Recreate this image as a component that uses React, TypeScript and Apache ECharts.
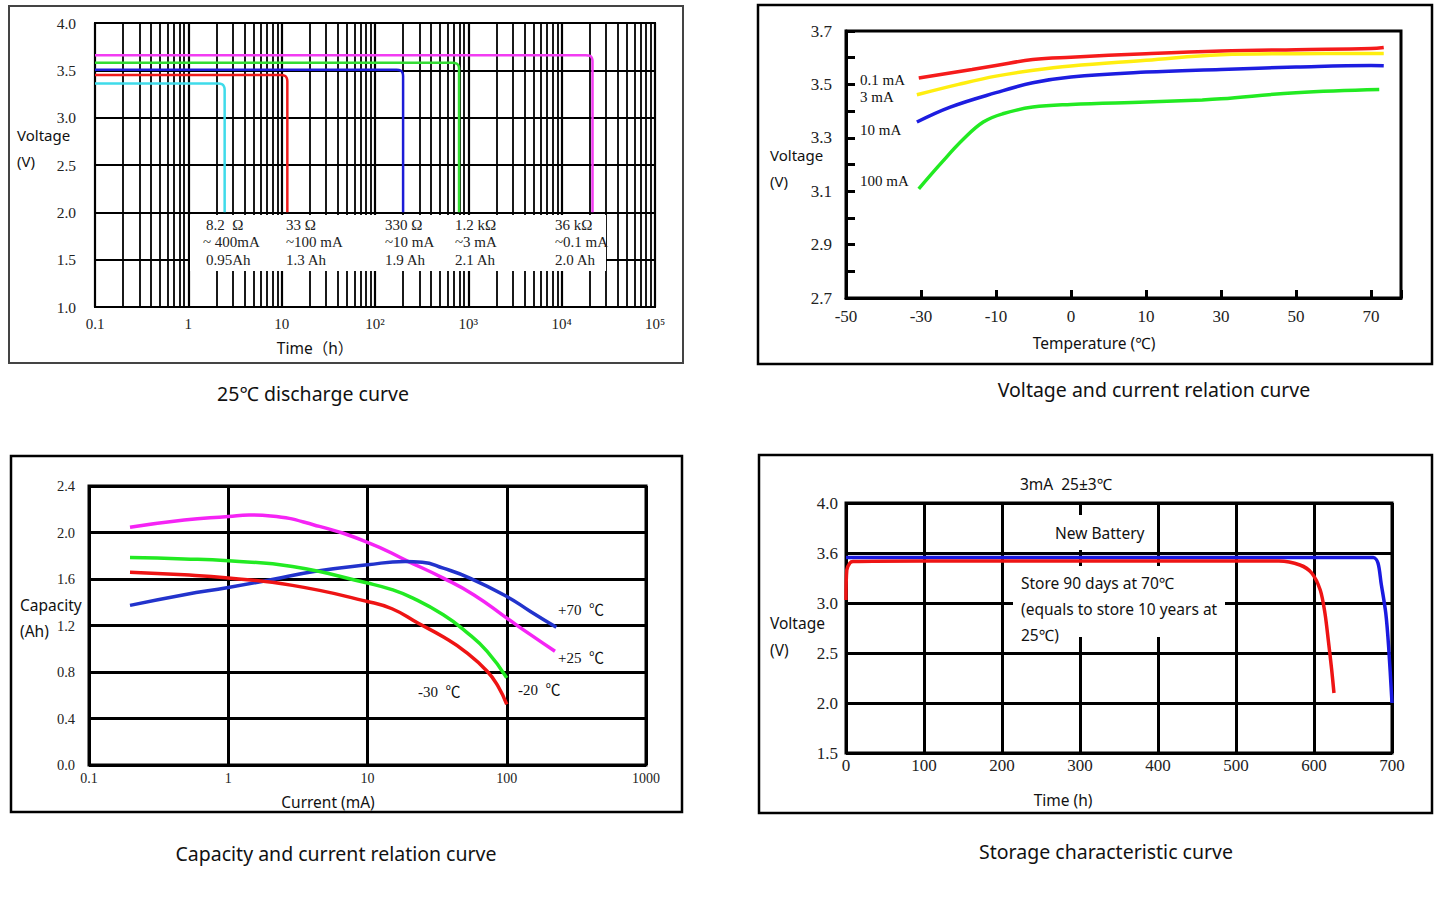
import React, { useEffect, useRef } from 'react';
import * as echarts from 'echarts';

// ---------------- Panel 1: 25℃ discharge curve ----------------
const dischargeXTicks = ['0.1', '1', '10', '10²', '10³', '10⁴', '10⁵'];
const dischargeLoads = ['8.2  Ω', '33 Ω', '330 Ω', '1.2 kΩ', '36 kΩ'];
const dischargeCurrents = ['~ 400mA', '~100 mA', '~10 mA', '~3 mA', '~0.1 mA'];
const dischargeCapacities = ['0.95Ah', '1.3 Ah', '1.9 Ah', '2.1 Ah', '2.0 Ah'];
const dischargeColors = ['#3fdbea', '#f01c1c', '#1c1cd8', '#33dd33', '#f23cf2'];
// [time (h), voltage (V)]
const discharge8R2 = [[0.1, 3.36], [2.08, 3.36], [2.31, 3.352], [2.41, 3.33], [2.45, 3.295], [2.45, 2.0]];
const discharge33R = [[0.1, 3.45], [9.75, 3.45], [10.85, 3.442], [11.33, 3.42], [11.5, 3.385], [11.5, 2.0]];
const discharge330R = [[0.1, 3.505], [170, 3.505], [189, 3.497], [197, 3.475], [200, 3.44], [200, 2.0]];
const discharge1K2 = [[0.1, 3.58], [674, 3.58], [750, 3.572], [783, 3.55], [795, 3.515], [795, 2.0]];
const discharge36K = [[0.1, 3.66], [18100, 3.66], [20200, 3.652], [21080, 3.63], [21400, 3.595], [21400, 2.0]];
const dischargeCurves = [discharge8R2, discharge33R, discharge330R, discharge1K2, discharge36K];

// ---------------- Panel 2: Voltage and current relation curve ----------------
const tempLabels = ['-50', '-30', '-10', '0', '10', '30', '50', '70'];
// [slot on temperature axis, voltage (V)]
const vc01mA = [[0.97, 3.524], [1.68, 3.556], [2.0, 3.571], [2.49, 3.593], [3.0, 3.602], [4.0, 3.615], [5.0, 3.625], [6.0, 3.63], [7.0, 3.634], [7.17, 3.638]];
const vc3mA = [[0.945, 3.461], [1.5, 3.5], [2.0, 3.531], [2.5, 3.553], [3.0, 3.569], [4.0, 3.59], [5.0, 3.611], [6.0, 3.615], [7.17, 3.616]];
const vc10mA = [[0.945, 3.359], [1.39, 3.415], [2.0, 3.469], [2.49, 3.506], [3.0, 3.528], [4.0, 3.546], [5.0, 3.556], [6.0, 3.565], [7.0, 3.571], [7.17, 3.57]];
const vc100mA = [[0.97, 3.109], [1.28, 3.209], [1.57, 3.296], [1.83, 3.359], [2.09, 3.39], [2.49, 3.415], [3.0, 3.425], [4.0, 3.434], [4.75, 3.442], [5.0, 3.446], [6.0, 3.469], [7.11, 3.481]];
const vcNames = ['0.1 mA', '3 mA', '10 mA', '100 mA'];
const vcColors = ['#f51b1b', '#ffee10', '#1d1de0', '#22ea22'];
const vcCurves = [vc01mA, vc3mA, vc10mA, vc100mA];

// ---------------- Panel 3: Capacity and current relation curve ----------------
const currentTicks = ['0.1', '1', '10', '100', '1000'];
// [current (mA), capacity (Ah)]
const cap25 = [[0.197, 2.045], [0.483, 2.108], [1.0, 2.137], [1.41, 2.151], [2.02, 2.142], [4.13, 2.065], [10, 1.916], [19.7, 1.75], [35, 1.608], [57.8, 1.465], [100, 1.264], [148, 1.121], [222, 0.978]];
const cap70 = [[0.197, 1.373], [0.483, 1.465], [1.0, 1.527], [2.02, 1.593], [4.13, 1.665], [10, 1.722], [18.6, 1.75], [24.7, 1.745], [35, 1.693], [54.3, 1.608], [100, 1.45], [148, 1.321], [227, 1.184]];
const capM20 = [[0.197, 1.785], [0.483, 1.773], [1.0, 1.756], [2.89, 1.708], [10, 1.565], [15.0, 1.508], [21.2, 1.436], [35, 1.293], [50.6, 1.15], [72.3, 0.978], [100, 0.749]];
const capM30 = [[0.197, 1.659], [0.483, 1.636], [1.0, 1.608], [2.89, 1.545], [10, 1.407], [15.0, 1.344], [23.0, 1.221], [35.4, 1.098], [50.6, 0.973], [72.3, 0.807], [86.5, 0.678], [100, 0.521]];
const capNames = ['+25  ℃', '+70  ℃', '-20  ℃', '-30  ℃'];
const capColors = ['#f524f5', '#2233cc', '#22ea22', '#ee1414'];
const capCurves = [cap25, cap70, capM20, capM30];

// ---------------- Panel 4: Storage characteristic curve ----------------
const storageYLabels = ['1.5', '2.0', '2.5', '3.0', '3.6', '4.0'];
// [time (h), voltage (V)]
const storageNew = [[0, 3.454], [300, 3.455], [600, 3.455], [676, 3.454], [682, 3.4], [686, 3.2], [692, 2.9], [695.7, 2.56], [700, 2.0]];
const storage90d = [[0, 3.03], [1, 3.33], [5, 3.4], [9, 3.415], [100, 3.42], [555, 3.42], [582, 3.38], [597, 3.3], [608, 3.13], [614, 2.9], [618.3, 2.63], [622.7, 2.33], [625.6, 2.1]];
const storageNames = ['New Battery', 'Store 90 days at 70℃'];
const storageColors = ['#1a1ae0', '#ee1414'];

const SANS = "'Noto Sans', 'Noto Sans CJK SC', sans-serif";
const SERIF = "'Liberation Serif', 'Noto Sans CJK SC', serif";

function txt(x: number, y: number, text: string, size: number, family: string, align = 'left', color = '#111') {
  return {
    type: 'text', x, y, z: 120, silent: true,
    style: { text, fill: color, fontSize: size, fontFamily: family, align, textAlign: align, verticalAlign: 'middle', textVerticalAlign: 'middle' },
  };
}
function box(x: number, y: number, w: number, h: number, stroke: string, lw: number) {
  return { type: 'rect', z: 100, silent: true, shape: { x, y, width: w, height: h }, style: { fill: 'none', stroke, lineWidth: lw } };
}
function white(x: number, y: number, w: number, h: number) {
  return { type: 'rect', z: 110, silent: true, shape: { x, y, width: w, height: h }, style: { fill: '#fff' } };
}

function buildOption() {
  const minorTimes: number[] = [];
  for (let e = -1; e <= 4; e++) for (let k = 2; k <= 9; k++) minorTimes.push(k * Math.pow(10, e));

  const tickLabel = (size: number, margin: number) => ({ fontSize: size, fontFamily: SERIF, color: '#222', margin });
  const split = (w: number) => ({ show: true, lineStyle: { color: '#000', width: w } });

  const series: any[] = [];
  series.push({
    type: 'line', xAxisIndex: 0, yAxisIndex: 0, data: [], z: 1, silent: true,
    markLine: { silent: true, symbol: 'none', label: { show: false }, lineStyle: { color: '#000', width: 1.8, type: 'solid' }, data: minorTimes.map((v) => ({ xAxis: v })) },
  });
  dischargeCurves.forEach((d, i) => series.push({
    type: 'line', xAxisIndex: 0, yAxisIndex: 0, data: d, showSymbol: false, smooth: 0.3, z: 5,
    lineStyle: { color: dischargeColors[i], width: 2.5 }, name: dischargeLoads[i],
  }));
  vcCurves.forEach((d, i) => series.push({
    type: 'line', xAxisIndex: 1, yAxisIndex: 1, data: d, showSymbol: false, smooth: 0.4, z: 5,
    lineStyle: { color: vcColors[i], width: 3.5 }, name: vcNames[i],
  }));
  capCurves.forEach((d, i) => series.push({
    type: 'line', xAxisIndex: 2, yAxisIndex: 2, data: d, showSymbol: false, smooth: 0.5, z: 5,
    lineStyle: { color: capColors[i], width: 3.5 }, name: capNames[i],
  }));
  [storageNew, storage90d].forEach((d, i) => series.push({
    type: 'line', xAxisIndex: 3, yAxisIndex: 3, data: d, showSymbol: false, smooth: 0.3, z: 5,
    lineStyle: { color: storageColors[i], width: 3.5 }, name: storageNames[i],
  }));

  const graphic: any[] = [
    // panel borders
    box(9, 6, 674, 357, '#444', 2),
    box(758, 5, 674, 359, '#000', 2.5),
    box(11, 456, 671, 356, '#000', 2.5),
    box(759, 455, 673, 358, '#000', 2.5),
    // panel 1 annotation box
    white(190, 215, 416, 56),
    // panel 4 annotation boxes
    white(1050, 515, 100, 35),
    white(1013, 566, 212, 71),
    // panel 1 texts
    txt(17, 135, 'Voltage', 15, SANS),
    txt(17, 161, '(V)', 15, SANS),
    txt(315, 348, 'Time（h）', 15.5, SANS, 'center'),
    txt(313, 393, '25℃ discharge curve', 19.5, SANS, 'center'),
    // panel 2 texts
    txt(770, 155, 'Voltage', 15, SANS),
    txt(770, 181, '(V)', 15, SANS),
    txt(1094, 343, 'Temperature (℃)', 15.5, SANS, 'center'),
    txt(1154, 389, 'Voltage and current relation curve', 19.5, SANS, 'center'),
    txt(860, 80, vcNames[0], 15, SERIF),
    txt(860, 97, vcNames[1], 15, SERIF),
    txt(860, 130, vcNames[2], 15, SERIF),
    txt(860, 181, vcNames[3], 15, SERIF),
    // panel 3 texts
    txt(20, 605, 'Capacity', 15.5, SANS),
    txt(20, 631, '(Ah)', 15.5, SANS),
    txt(328, 802, 'Current (mA)', 15.5, SANS, 'center'),
    txt(336, 853, 'Capacity and current relation curve', 19.5, SANS, 'center'),
    txt(558, 610, capNames[1], 15, SERIF),
    txt(558, 658, capNames[0], 15, SERIF),
    txt(418, 692, capNames[3], 15, SERIF),
    txt(518, 690, capNames[2], 15, SERIF),
    // panel 4 texts
    txt(770, 623, 'Voltage', 15.5, SANS),
    txt(770, 650, '(V)', 15.5, SANS),
    txt(1063, 800, 'Time (h)', 15.5, SANS, 'center'),
    txt(1066, 484, '3mA  25±3℃', 15.5, SANS, 'center'),
    txt(1106, 851, 'Storage characteristic curve', 19.5, SANS, 'center'),
    txt(1055, 533, storageNames[0], 15.5, SANS),
    txt(1021, 583, storageNames[1], 15.5, SANS),
    txt(1021, 609, '(equals to store 10 years at', 15.5, SANS),
    txt(1021, 635, '25℃)', 15.5, SANS),
  ];
  const colX = [206, 286, 385, 455, 555];
  dischargeLoads.forEach((_, i) => {
    graphic.push(txt(colX[i], 225, dischargeLoads[i], 15, SERIF, 'left', '#222'));
    graphic.push(txt(colX[i] - (i === 0 ? 3 : 0), 242, dischargeCurrents[i], 15, SERIF, 'left', '#222'));
    graphic.push(txt(colX[i], 260, dischargeCapacities[i], 15, SERIF, 'left', '#222'));
  });

  return {
    animation: false,
    backgroundColor: '#fff',
    grid: [
      { left: 95, top: 23, width: 560, height: 284, show: true, borderColor: '#000', borderWidth: 2, backgroundColor: 'transparent' },
      { left: 846, top: 31, width: 555, height: 267, show: true, borderColor: '#000', borderWidth: 3, backgroundColor: 'transparent' },
      { left: 89, top: 486, width: 557, height: 279, show: true, borderColor: '#000', borderWidth: 3, backgroundColor: 'transparent' },
      { left: 846, top: 503, width: 546, height: 250, show: true, borderColor: '#000', borderWidth: 3, backgroundColor: 'transparent' },
    ],
    xAxis: [
      {
        gridIndex: 0, type: 'log', logBase: 10, min: 0.1, max: 100000, splitNumber: 6,
        axisLine: { show: false }, axisTick: { show: false }, splitLine: split(2.2),
        axisLabel: { ...tickLabel(15, 9), formatter: (v: number) => dischargeXTicks[Math.round(Math.log10(v)) + 1] ?? '' },
      },
      {
        gridIndex: 1, type: 'value', min: 0, max: 7.4, interval: 1,
        axisLine: { show: true, lineStyle: { color: '#000', width: 3 } },
        axisTick: { show: true, inside: true, length: 8, lineStyle: { color: '#000', width: 3 } },
        splitLine: { show: false },
        axisLabel: { ...tickLabel(17, 10), formatter: (v: number) => (Math.abs(v - Math.round(v)) < 1e-6 ? tempLabels[Math.round(v)] ?? '' : '') },
      },
      {
        gridIndex: 2, type: 'log', logBase: 10, min: 0.1, max: 1000, splitNumber: 4,
        axisLine: { show: false }, axisTick: { show: false }, splitLine: split(3),
        axisLabel: { ...tickLabel(14, 6), formatter: (v: number) => currentTicks[Math.round(Math.log10(v)) + 1] ?? '' },
      },
      {
        gridIndex: 3, type: 'value', min: 0, max: 700, interval: 100,
        axisLine: { show: false }, axisTick: { show: false }, splitLine: split(3),
        axisLabel: { ...tickLabel(17, 4) },
      },
    ],
    yAxis: [
      {
        gridIndex: 0, type: 'value', min: 1, max: 4, interval: 0.5,
        axisLine: { show: false }, axisTick: { show: false }, splitLine: split(2),
        axisLabel: { ...tickLabel(15.5, 19), padding: [0, 0, 4, 0], formatter: (v: number) => v.toFixed(1) },
      },
      {
        gridIndex: 1, type: 'value', min: 2.7, max: 3.7, interval: 0.1,
        axisLine: { show: true, lineStyle: { color: '#000', width: 3 } },
        axisTick: { show: true, inside: true, length: 9, lineStyle: { color: '#000', width: 3 } },
        splitLine: { show: false },
        axisLabel: { ...tickLabel(17, 14), padding: [0, 0, 6, 0], formatter: (v: number) => (Math.round(v * 10) % 2 === 1 ? v.toFixed(1) : '') },
      },
      {
        gridIndex: 2, type: 'value', min: 0, max: 2.4, interval: 0.4,
        axisLine: { show: false }, axisTick: { show: false }, splitLine: split(3),
        axisLabel: { ...tickLabel(14.5, 14), formatter: (v: number) => v.toFixed(1) },
      },
      {
        gridIndex: 3, type: 'value', min: 1.5, max: 4.0, interval: 0.5,
        axisLine: { show: false }, axisTick: { show: false }, splitLine: split(3),
        axisLabel: { ...tickLabel(17, 8), formatter: (v: number) => storageYLabels[Math.round((v - 1.5) / 0.5)] ?? '' },
      },
    ],
    series,
    graphic,
  };
}

export default function App() {
  const ref = useRef<HTMLDivElement>(null);
  useEffect(() => {
    if (!ref.current) return;
    const chart = echarts.init(ref.current, null, { renderer: 'svg' });
    chart.setOption(buildOption() as any);
    return () => chart.dispose();
  }, []);
  return <div ref={ref} style={{ position: 'absolute', left: 0, top: 0, width: 1446, height: 902, background: '#fff' }} />;
}
